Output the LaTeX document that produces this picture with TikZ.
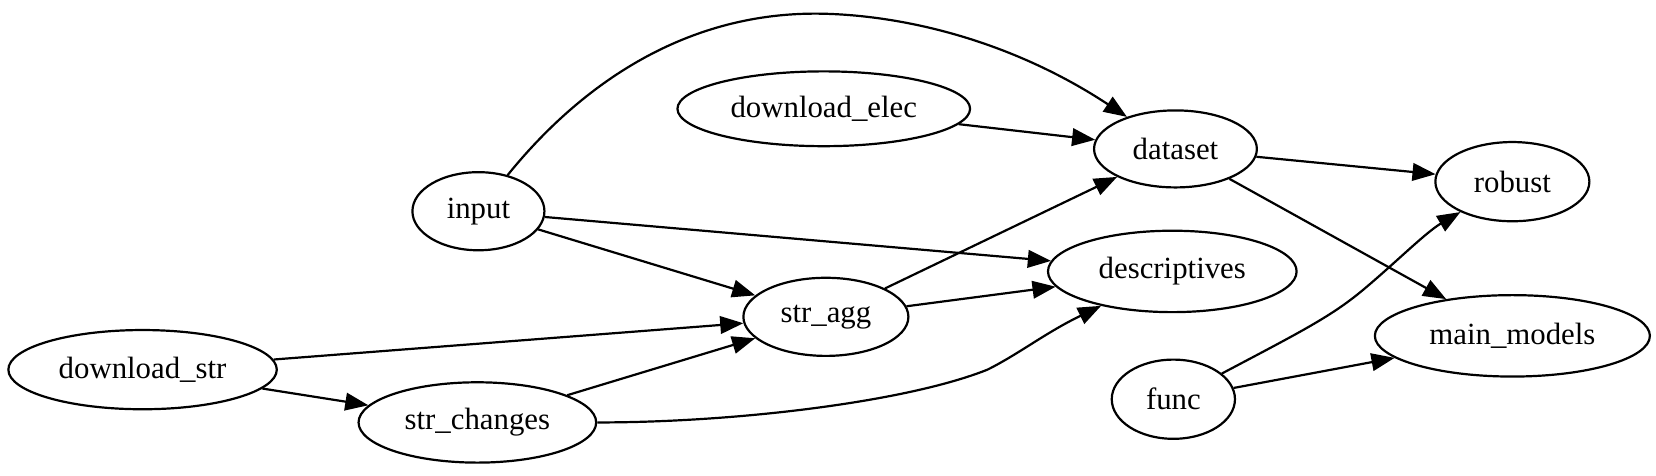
\documentclass[tikz,border=0pt]{standalone}
\usepackage{fontspec}
\setmainfont{Liberation Serif}
\usetikzlibrary{arrows.meta,shapes.geometric}
\begin{document}
\begin{tikzpicture}[x=0.48pt,y=-0.48pt,
  nd/.style={draw,ellipse,line width=1pt,inner sep=0pt,font=\fontsize{14pt}{16pt}\selectfont},
  edge/.style={line width=1pt,-{Triangle[length=10.5pt,width=8pt]}}]
\useasboundingbox (0,0) rectangle (1568,450);
\node[nd,minimum width=133pt,minimum height=34pt] (delec) at (780,103) {download\_elec};
\node[nd,minimum width=74pt,minimum height=35pt] (dataset) at (1113,141) {dataset};
\node[nd,minimum width=60pt,minimum height=35.5pt] (input) at (453,200) {input};
\node[nd,minimum width=70pt,minimum height=36pt] (robust) at (1432,172) {robust};
\node[nd,minimum width=113pt,minimum height=37pt] (desc) at (1110,257) {descriptives};
\node[nd,minimum width=75pt,minimum height=35.5pt] (stragg) at (782,300) {str\_agg};
\node[nd,minimum width=125pt,minimum height=37pt] (main) at (1432,318) {main\_models};
\node[nd,minimum width=122pt,minimum height=36pt] (dstr) at (135,350) {download\_str};
\node[nd,minimum width=56pt,minimum height=36pt] (func) at (1111,378) {func};
\node[nd,minimum width=108pt,minimum height=36.5pt] (strch) at (452,400) {str\_changes};

\draw[edge] (input) .. controls (550,80) and (650,10) .. (780,13) .. controls (860,15) and (960,40) .. (dataset);
\draw[edge] (delec) -- (dataset);
\draw[edge] (dataset) -- (robust);
\draw[edge] (dataset) -- (main);
\draw[edge] (input) -- (desc);
\draw[edge] (input) -- (stragg);
\draw[edge] (stragg) -- (dataset);
\draw[edge] (stragg) -- (desc);
\draw[edge] (dstr) -- (stragg);
\draw[edge] (dstr) -- (strch);
\draw[edge] (strch) -- (stragg);
\draw[edge] (strch) .. controls (700,400) and (860,380) .. (935,350) .. controls (965,335) and (990,315) .. (desc);
\draw[edge] (func) .. controls (1230,315) and (1260,300) .. (1290,275) .. controls (1320,250) and (1350,220) .. (robust);
\draw[edge] (func) -- (main);
\end{tikzpicture}
\end{document}
